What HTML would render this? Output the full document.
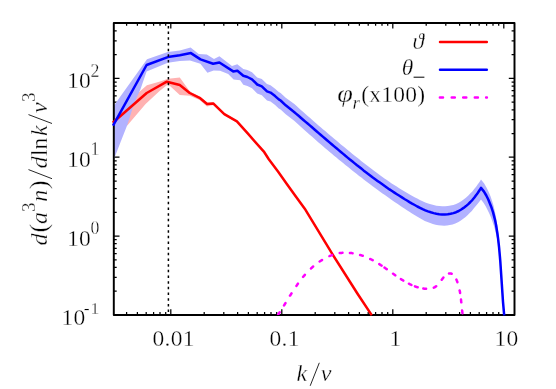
<!DOCTYPE html>
<html><head><meta charset="utf-8"><title>plot</title>
<style>
html,body{margin:0;padding:0;background:#fff;}
body{width:556px;height:389px;overflow:hidden;}
svg{display:block;}
text{font-family:"Liberation Serif",serif;fill:#000;stroke:#fff;stroke-width:0.32px;}
.tx{filter:grayscale(1);}
.it{font-style:italic;}
</style></head><body>
<svg width="556" height="389" viewBox="0 0 556 389">
<rect width="556" height="389" fill="#fff"/>
<defs><clipPath id="c"><rect x="113.8" y="22.9" width="400.7" height="292.0"/></clipPath></defs>
<path d="M126.6,314.9v-2.9M126.6,22.9v2.9M137.4,314.9v-2.9M137.4,22.9v2.9M146.2,314.9v-2.9M146.2,22.9v2.9M153.6,314.9v-2.9M153.6,22.9v2.9M160.0,314.9v-2.9M160.0,22.9v2.9M165.7,314.9v-2.9M165.7,22.9v2.9M170.8,314.9v-5.7M170.8,22.9v5.7M204.2,314.9v-2.9M204.2,22.9v2.9M223.8,314.9v-2.9M223.8,22.9v2.9M237.6,314.9v-2.9M237.6,22.9v2.9M248.4,314.9v-2.9M248.4,22.9v2.9M257.2,314.9v-2.9M257.2,22.9v2.9M264.6,314.9v-2.9M264.6,22.9v2.9M271.0,314.9v-2.9M271.0,22.9v2.9M276.7,314.9v-2.9M276.7,22.9v2.9M281.8,314.9v-5.7M281.8,22.9v5.7M315.2,314.9v-2.9M315.2,22.9v2.9M334.8,314.9v-2.9M334.8,22.9v2.9M348.6,314.9v-2.9M348.6,22.9v2.9M359.4,314.9v-2.9M359.4,22.9v2.9M368.2,314.9v-2.9M368.2,22.9v2.9M375.6,314.9v-2.9M375.6,22.9v2.9M382.0,314.9v-2.9M382.0,22.9v2.9M387.7,314.9v-2.9M387.7,22.9v2.9M392.8,314.9v-5.7M392.8,22.9v5.7M426.2,314.9v-2.9M426.2,22.9v2.9M445.8,314.9v-2.9M445.8,22.9v2.9M459.6,314.9v-2.9M459.6,22.9v2.9M470.4,314.9v-2.9M470.4,22.9v2.9M479.2,314.9v-2.9M479.2,22.9v2.9M486.6,314.9v-2.9M486.6,22.9v2.9M493.0,314.9v-2.9M493.0,22.9v2.9M498.7,314.9v-2.9M498.7,22.9v2.9M503.8,314.9v-5.7M503.8,22.9v5.7M113.8,314.9h5.7M514.5,314.9h-5.7M113.8,291.2h2.9M514.5,291.2h-2.9M113.8,277.3h2.9M514.5,277.3h-2.9M113.8,267.4h2.9M514.5,267.4h-2.9M113.8,259.8h2.9M514.5,259.8h-2.9M113.8,253.5h2.9M514.5,253.5h-2.9M113.8,248.3h2.9M514.5,248.3h-2.9M113.8,243.7h2.9M514.5,243.7h-2.9M113.8,239.7h2.9M514.5,239.7h-2.9M113.8,236.1h5.7M514.5,236.1h-5.7M113.8,212.3h2.9M514.5,212.3h-2.9M113.8,198.4h2.9M514.5,198.4h-2.9M113.8,188.6h2.9M514.5,188.6h-2.9M113.8,181.0h2.9M514.5,181.0h-2.9M113.8,174.7h2.9M514.5,174.7h-2.9M113.8,169.4h2.9M514.5,169.4h-2.9M113.8,164.9h2.9M514.5,164.9h-2.9M113.8,160.8h2.9M514.5,160.8h-2.9M113.8,157.2h5.7M514.5,157.2h-5.7M113.8,133.5h2.9M514.5,133.5h-2.9M113.8,119.6h2.9M514.5,119.6h-2.9M113.8,109.8h2.9M514.5,109.8h-2.9M113.8,102.1h2.9M514.5,102.1h-2.9M113.8,95.9h2.9M514.5,95.9h-2.9M113.8,90.6h2.9M514.5,90.6h-2.9M113.8,86.0h2.9M514.5,86.0h-2.9M113.8,82.0h2.9M514.5,82.0h-2.9M113.8,78.4h5.7M514.5,78.4h-5.7M113.8,54.7h2.9M514.5,54.7h-2.9M113.8,40.8h2.9M514.5,40.8h-2.9M113.8,30.9h2.9M514.5,30.9h-2.9M113.8,23.3h2.9M514.5,23.3h-2.9" stroke="#000" stroke-width="1.25" fill="none"/>
<g clip-path="url(#c)">
<path d="M113.4,120.0 L139.7,91.6 L146.9,85.2 L160.0,81.4 L168.1,78.7 L179.8,77.4 L189.7,91.3 L199.6,96.5 L207.1,102.6 L213.2,102.2 L224.3,113.0 L236.9,120.4 L236.9,122.3 L224.3,115.4 L213.2,105.0 L207.0,106.5 L199.6,100.0 L189.7,95.8 L179.8,94.9 L168.1,84.2 L159.6,91.0 L145.6,104.0 L127.3,125.6 L113.4,124.0Z" fill="#ffb2b2"/>
<path d="M113.4,106.6 L120.0,97.0 L147.0,59.2 L167.8,52.0 L179.8,50.6 L190.6,47.4 L198.7,54.0 L206.8,54.4 L214.0,58.9 L219.4,56.2 L232.0,66.1 L237.3,64.3 L243.3,68.9 L247.4,70.0 L252.0,72.3 L257.2,77.4 L261.8,79.1 L267.0,84.1 L270.5,85.3 L275.1,88.7 L278.8,91.9 L280.6,93.0 L285.7,97.7 L294.4,104.1 L296.6,106.0 L298.7,108.0 L300.9,109.9 L303.0,111.8 L305.2,113.8 L307.4,115.7 L309.6,117.6 L311.8,119.6 L314.0,121.5 L316.3,123.4 L318.5,125.4 L320.7,127.3 L322.9,129.2 L325.2,131.1 L327.4,133.0 L329.7,134.9 L331.9,136.8 L334.2,138.7 L336.4,140.6 L338.7,142.5 L340.9,144.4 L343.2,146.2 L345.4,148.1 L347.7,150.0 L349.9,151.8 L352.2,153.7 L354.4,155.5 L356.7,157.3 L359.0,159.1 L361.2,161.0 L363.5,162.8 L365.8,164.5 L368.1,166.3 L370.4,168.1 L372.7,169.8 L375.0,171.6 L377.4,173.3 L379.7,175.0 L382.1,176.7 L384.5,178.4 L386.9,180.1 L389.3,181.7 L391.7,183.4 L394.2,185.0 L396.7,186.6 L399.2,188.2 L401.7,189.7 L404.2,191.3 L406.8,192.8 L409.3,194.3 L411.9,195.8 L414.6,197.2 L417.2,198.6 L419.9,200.0 L422.6,201.2 L425.3,202.4 L428.1,203.4 L430.8,204.3 L433.6,205.1 L436.4,205.7 L439.3,206.1 L442.1,206.3 L445.0,206.3 L447.8,206.1 L450.6,205.6 L453.4,204.9 L456.1,203.9 L458.7,202.7 L461.2,201.3 L463.6,199.6 L465.9,197.7 L468.1,195.7 L470.2,193.6 L472.3,191.4 L474.2,189.1 L476.1,186.7 L477.8,184.3 L479.5,181.9 L481.0,179.6 L484.2,183.6 L486.6,187.7 L488.7,191.9 L490.5,196.3 L492.0,200.8 L493.4,205.3 L494.5,209.9 L495.5,214.5 L496.4,219.2 L497.1,223.9 L497.8,228.6 L498.4,233.4 L498.9,238.1 L499.3,242.9 L499.7,247.7 L500.0,252.5 L500.3,257.3 L500.6,262.1 L500.8,266.9 L501.0,271.7 L501.2,276.5 L501.5,281.3 L501.7,286.1 L502.0,290.9 L502.3,295.6 L502.7,300.3 L503.1,305.1 L503.6,309.7 L504.1,314.4 L504.1,314.4 L503.6,310.4 L503.2,306.4 L502.9,302.4 L502.6,298.4 L502.3,294.3 L502.0,290.2 L501.8,286.1 L501.6,282.0 L501.3,277.9 L501.1,273.7 L500.8,269.6 L500.5,265.5 L500.2,261.4 L499.8,257.3 L499.3,253.2 L498.8,249.1 L498.2,245.0 L497.5,241.0 L496.7,237.0 L495.8,233.0 L494.8,229.1 L493.7,225.2 L492.4,221.4 L491.0,217.6 L489.4,213.8 L487.7,210.2 L485.8,206.5 L483.7,203.0 L481.0,199.6 L479.3,201.8 L477.5,204.0 L475.6,206.3 L473.7,208.6 L471.8,210.9 L469.7,213.1 L467.5,215.2 L465.3,217.2 L462.9,219.1 L460.5,220.7 L458.0,222.2 L455.3,223.4 L452.6,224.4 L449.8,225.1 L447.0,225.5 L444.1,225.7 L441.3,225.6 L438.4,225.3 L435.6,224.8 L432.9,224.0 L430.2,223.1 L427.5,222.1 L424.8,220.9 L422.2,219.6 L419.6,218.1 L417.0,216.6 L414.5,215.1 L412.0,213.5 L409.4,211.8 L406.9,210.2 L404.4,208.5 L402.0,206.9 L399.5,205.2 L397.0,203.6 L394.6,201.9 L392.1,200.2 L389.7,198.5 L387.3,196.8 L384.9,195.1 L382.5,193.4 L380.1,191.7 L377.8,189.9 L375.4,188.2 L373.0,186.5 L370.7,184.7 L368.4,183.0 L366.0,181.2 L363.7,179.4 L361.4,177.6 L359.1,175.9 L356.8,174.1 L354.5,172.3 L352.2,170.4 L349.9,168.6 L347.7,166.8 L345.4,165.0 L343.1,163.1 L340.9,161.3 L338.6,159.4 L336.4,157.6 L334.1,155.7 L331.9,153.8 L329.7,151.9 L327.4,150.1 L325.2,148.2 L323.0,146.3 L320.7,144.3 L318.5,142.4 L316.3,140.5 L314.1,138.6 L311.9,136.6 L309.7,134.7 L307.5,132.7 L305.2,130.8 L303.0,128.8 L300.8,126.8 L298.6,124.8 L296.4,122.8 L294.2,120.8 L285.7,114.3 L280.6,109.5 L278.8,108.4 L275.1,105.1 L270.5,101.6 L267.0,100.4 L261.8,95.3 L257.2,93.5 L252.0,88.3 L247.4,86.0 L243.3,84.8 L240.2,80.2 L233.6,79.4 L228.2,74.1 L220.1,70.8 L213.7,70.5 L207.4,72.8 L200.4,63.7 L190.0,60.6 L179.8,60.9 L167.8,62.8 L146.6,71.6 L140.4,89.6 L134.2,103.0 L128.5,121.3 L126.9,125.9 L120.6,142.0 L114.6,157.6 L113.4,161.0Z" fill="#b2b2ff"/>
</g>
<rect x="113.8" y="22.9" width="400.7" height="292.0" fill="none" stroke="#000" stroke-width="1.95" stroke-linejoin="round"/>
<g fill="none" stroke-linejoin="round" stroke-linecap="butt">
<path d="M112.8,122.7 L113.6,122.0 L146.7,93.0 L166.8,81.7 L179.8,85.0 L189.7,93.0 L199.6,97.8 L207.1,104.0 L213.2,103.4 L224.3,114.1 L236.9,121.3 L247.5,133.2 L264.3,152.2 L268.8,159.2 L278.0,171.6 L287.0,184.2 L296.0,196.8 L305.5,209.8 L331.8,253.2 L357.7,294.0 L371.2,314.4 L371.8,315.3" stroke="#ff0000" stroke-width="2.5"/>
<path d="M113.0,125.7 L113.6,124.6 L146.6,65.0 L167.8,57.1 L179.8,55.3 L190.9,53.1 L200.5,59.4 L213.1,63.7 L219.4,62.5 L233.2,71.4 L237.4,70.7 L243.3,75.8 L247.4,77.0 L252.0,79.3 L257.2,84.5 L261.8,86.3 L267.0,91.4 L270.5,92.6 L275.1,96.1 L278.8,99.4 L280.6,100.5 L285.7,105.3 L294.1,112.0 L296.3,113.9 L298.6,115.8 L300.8,117.7 L303.1,119.7 L305.3,121.6 L307.6,123.5 L309.8,125.4 L312.0,127.3 L314.2,129.2 L316.5,131.2 L318.7,133.1 L320.9,135.0 L323.1,136.9 L325.3,138.8 L327.6,140.7 L329.8,142.6 L332.0,144.5 L334.2,146.4 L336.5,148.3 L338.7,150.1 L340.9,152.0 L343.2,153.9 L345.4,155.8 L347.6,157.6 L349.9,159.5 L352.2,161.3 L354.4,163.1 L356.7,165.0 L359.0,166.8 L361.3,168.6 L363.5,170.4 L365.9,172.2 L368.2,173.9 L370.5,175.7 L372.8,177.5 L375.2,179.2 L377.5,180.9 L379.9,182.6 L382.3,184.3 L384.7,186.0 L387.1,187.7 L389.5,189.4 L392.0,191.0 L394.4,192.6 L396.9,194.2 L399.4,195.8 L401.9,197.4 L404.4,199.0 L407.0,200.5 L409.5,202.1 L412.1,203.6 L414.7,205.0 L417.3,206.5 L420.0,207.8 L422.6,209.1 L425.3,210.3 L428.0,211.4 L430.8,212.3 L433.6,213.1 L436.4,213.7 L439.2,214.2 L442.0,214.4 L444.9,214.5 L447.8,214.3 L450.6,213.8 L453.4,213.1 L456.1,212.2 L458.7,211.0 L461.2,209.5 L463.6,207.9 L466.0,206.1 L468.3,204.1 L470.4,202.0 L472.5,199.8 L474.4,197.5 L476.2,195.1 L477.9,192.7 L479.5,190.3 L481.0,187.9 L484.0,191.6 L486.3,195.5 L488.3,199.5 L490.0,203.7 L491.6,207.8 L493.0,212.1 L494.1,216.4 L495.2,220.8 L496.1,225.2 L496.8,229.7 L497.5,234.2 L498.1,238.7 L498.6,243.2 L499.1,247.7 L499.5,252.2 L499.9,256.7 L500.3,261.3 L500.6,265.8 L500.9,270.3 L501.2,274.9 L501.5,279.4 L501.8,283.9 L502.1,288.4 L502.4,292.9 L502.7,297.4 L503.0,301.9 L503.4,306.4 L503.8,310.8 L504.2,315.3" stroke="#0000ff" stroke-width="2.5"/>
<path d="M278.2,314.4 L278.4,314.1 L278.7,313.7 L278.9,313.3 L279.2,313.0 L279.4,312.6 L279.7,312.2 L279.7,312.2M284.0,305.5 L284.2,305.1 L284.5,304.8 L284.7,304.4 L284.9,304.0 L285.1,303.6 L285.4,303.3 L285.5,303.1M290.0,295.7 L290.3,295.4 L290.5,295.0 L290.7,294.6 L291.0,294.3 L291.2,293.9 L291.4,293.5 L291.5,293.4M296.4,286.0 L296.6,285.6 L296.9,285.2 L297.1,284.9 L297.3,284.5 L297.6,284.2 L297.8,283.8 L297.9,283.7M303.1,276.9 L303.4,276.6 L303.6,276.3 L303.9,275.9 L304.2,275.6 L304.5,275.3 L304.8,275.0 L304.9,274.8M311.0,268.4 L311.4,268.1 L311.7,267.8 L312.0,267.5 L312.3,267.2 L312.7,266.9 L313.0,266.6 L313.1,266.5M319.6,261.5 L320.0,261.3 L320.4,261.0 L320.7,260.8 L321.1,260.6 L321.5,260.3 L321.9,260.1 L322.0,260.0M329.4,256.1 L329.8,256.0 L330.2,255.8 L330.6,255.7 L331.0,255.5 L331.4,255.3 L331.8,255.2 L332.0,255.1M339.7,253.1 L340.2,253.1 L340.6,253.0 L341.0,253.0 L341.4,252.9 L341.9,252.9 L342.3,252.8 L342.5,252.8M349.9,252.9 L350.3,252.9 L350.7,253.0 L351.2,253.0 L351.6,253.1 L352.0,253.1 L352.4,253.2 L352.6,253.2M360.1,255.0 L360.6,255.1 L361.0,255.2 L361.4,255.4 L361.8,255.5 L362.2,255.6 L362.6,255.8 L362.8,255.8M370.2,259.0 L370.6,259.1 L371.0,259.3 L371.4,259.5 L371.8,259.7 L372.1,259.9 L372.5,260.1 L372.7,260.2M379.3,264.1 L379.7,264.4 L380.0,264.6 L380.4,264.8 L380.8,265.1 L381.1,265.3 L381.5,265.5 L381.6,265.6M384.5,267.6 L384.8,267.8 L385.2,268.1 L385.6,268.3 L385.9,268.6 L386.3,268.8 L386.6,269.1 L386.8,269.2M393.0,273.7 L393.4,273.9 L393.7,274.2 L394.1,274.4 L394.5,274.7 L394.8,274.9 L395.2,275.2 L395.3,275.3M400.9,279.1 L401.3,279.3 L401.7,279.5 L402.0,279.8 L402.4,280.0 L402.8,280.2 L403.2,280.5 L403.3,280.6M408.9,283.7 L409.3,283.9 L409.7,284.1 L410.1,284.3 L410.5,284.5 L410.9,284.7 L411.3,284.9 L411.4,284.9M415.0,286.4 L415.4,286.6 L415.8,286.7 L416.3,286.9 L416.7,287.0 L417.1,287.1 L417.5,287.3 L417.7,287.3M423.3,288.6 L423.7,288.6 L424.2,288.7 L424.6,288.7 L425.1,288.8 L425.5,288.8 L425.9,288.8 L426.1,288.8M433.8,287.7 L434.2,287.5 L434.5,287.3 L434.9,287.1 L435.2,286.9 L435.6,286.6 L435.9,286.4 L436.2,286.2M441.7,279.8 L442.0,279.4 L442.3,279.0 L442.6,278.6 L442.9,278.2 L443.2,277.8 L443.4,277.5M449.0,273.5 L449.4,273.4 L449.9,273.4 L450.3,273.4 L450.7,273.5 L451.2,273.6 L451.6,273.8 L451.7,273.8M456.4,279.6 L456.6,280.0 L456.7,280.4 L456.9,280.9 L457.1,281.3 L457.3,281.8 L457.4,282.2 L457.4,282.2M459.6,290.4 L459.7,290.8 L459.8,291.2 L459.9,291.6 L460.0,292.1 L460.0,292.5 L460.1,292.9 L460.1,293.1M461.0,299.4 L461.0,299.8 L461.1,300.3 L461.1,300.7 L461.1,301.1 L461.2,301.5 L461.2,302.0 L461.3,302.3M462.1,310.5 L462.2,311.0 L462.2,311.4 L462.3,311.8 L462.3,312.3 L462.4,312.7 L462.5,313.2 L462.5,313.3" stroke="#ff00ff" stroke-width="2.5" stroke-linecap="round" clip-path="url(#c)"/>
</g>
<path d="M168.4,22.9V314.9" stroke="#000" stroke-width="1.5" stroke-dasharray="2.5 3.172" stroke-dashoffset="2.622" fill="none"/>
<!-- legend -->
<g fill="none" stroke-width="2.5">
<path d="M440.0,42.0H486.8" stroke="#ff0000" stroke-linecap="round"/>
<path d="M440.0,69.7H486.8" stroke="#0000ff" stroke-linecap="round"/>
<path d="M439.9,97.5h3.1M451.7,97.5h3.1M463.2,97.5h3.1M474.8,97.5h3.1M486.1,97.5h0.8" stroke="#ff00ff" stroke-width="2.5" stroke-linecap="round"/>
</g>
<g font-size="23" class="tx">
<text class="it" x="424.0" y="49.4" text-anchor="end" font-size="23.5">ϑ</text>
<text class="it" x="413.4" y="75.4" text-anchor="end" font-size="23.5">θ</text>
<path d="M413.6,77.2H424.4" stroke="#000" stroke-width="1"/>
<text class="it" transform="translate(337.2,102.2) scale(1.13,1)" font-size="25">φ</text>
<text class="it" x="352.6" y="108.8" font-size="19">r</text>
<text x="361.2" y="102.4" font-size="23.5" letter-spacing="0.25">(x100)</text>
</g>
<!-- tick labels -->
<g font-size="23.5" letter-spacing="0.3" class="tx">
<text x="173.6" y="346.3" text-anchor="middle">0.01</text><text x="284.6" y="346.3" text-anchor="middle">0.1</text><text x="395.6" y="346.3" text-anchor="middle">1</text><text x="506.6" y="346.3" text-anchor="middle">10</text>
<text x="91.0" y="88.3" text-anchor="end">10</text><text x="90.6" y="76.5" font-size="17.8" letter-spacing="0">2</text><text x="91.0" y="167.1" text-anchor="end">10</text><text x="90.6" y="155.3" font-size="17.8" letter-spacing="0">1</text><text x="91.0" y="246.0" text-anchor="end">10</text><text x="90.6" y="234.2" font-size="17.8" letter-spacing="0">0</text>
<text x="85.6" y="325.2" text-anchor="end">10</text><text x="83.8" y="313.9" font-size="17.5" letter-spacing="0">-</text><text x="90.4" y="313.9" font-size="17.5" letter-spacing="0">1</text>
</g>
<!-- axis labels -->
<g font-size="24" class="tx">
<text class="it" x="296.5" y="380.6">k</text>
<text class="it" x="320.7" y="380.6">v</text>
<path d="M310.2,385.8L319.3,362.8" stroke="#000" stroke-width="0.85" fill="none"/>
</g>
<g transform="translate(46.6,244.8) rotate(-90)" font-size="24" class="tx">
<text class="it" x="-0.6" y="0">d</text>
<text x="12.3" y="0" font-size="26">(</text>
<text class="it" x="20.9" y="0">a</text>
<text x="32.8" y="-11.4" font-size="19.2">3</text>
<text class="it" x="43.1" y="0">n</text>
<text x="55.8" y="0" font-size="26">)</text>
<path d="M66.1,5.4L75.2,-18.1M121.3,5.4L130.2,-18.1" stroke="#000" stroke-width="0.85" fill="none"/>
<text class="it" x="76.3" y="0">d</text>
<text x="88.8" y="0" font-size="23.5">l</text>
<text x="95.2" y="0" font-size="23.5">n</text>
<text class="it" x="108.8" y="0">k</text>
<text class="it" x="131.8" y="0">v</text>
<text x="142.8" y="-11.4" font-size="19.2">3</text>
</g>
</svg>
</body></html>
